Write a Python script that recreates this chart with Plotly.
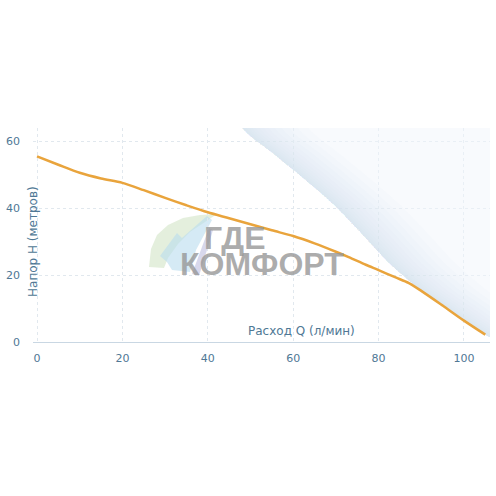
"""Pump performance curve: head vs flow."""

import plotly.graph_objects as go

# Pump curve (flow Q in l/min, head H in metres)
flow_q = [0, 5, 10, 15, 20, 25, 30, 35, 40, 45, 50, 55, 60, 65, 70, 73, 77, 80, 84, 87, 90, 95, 100, 105]
head_h = [55.5, 53.0, 50.6, 48.9, 47.6, 45.4, 43.1, 40.9, 38.8, 37.0, 35.2, 33.4, 31.7, 29.5, 27.0, 25.4, 23.1, 21.5, 19.3, 17.7, 15.3, 10.9, 6.4, 2.2]

# decorative swoosh edge in the upper right (joins the pump curve near Q=90)
swoosh_q = [47, 49.2, 55.3, 60, 65.6, 70.3, 74.9, 78.7, 82.7, 86.6, 90, 95, 100, 105, 106.1]
swoosh_h = [66, 62.4, 56.4, 51.5, 45.5, 40.1, 34.0, 28.7, 23.3, 18.9, 15.3, 10.9, 6.4, 2.2, 1.5]
swoosh_steps = [0.5, 1.0, 1.6, 2.3, 3.1, 4.0, 5.0, 6.2, 7.6, 9.2, 11, 13, 15.5]

x_ticks = [0, 20, 40, 60, 80, 100]
y_ticks = [0, 20, 40, 60]

TICK_COLOR = '#4f7895'
W, H = 496, 496
ML, MR, MT, MB = 33, 6, 128, 154
PW, PH = W - ML - MR, H - MT - MB

fig = go.Figure()

# swoosh: pale base + stacked thin bands so the edge is darkest
fig.add_trace(go.Scatter(
    x=swoosh_q + [120, 120],
    y=swoosh_h + [0, 66],
    mode='lines',
    fill='toself',
    fillcolor='rgba(241,246,251,0.5)',
    line=dict(width=0, color='rgba(0,0,0,0)', shape='spline', smoothing=0.8),
    hoverinfo='skip',
    showlegend=False,
))
for d in swoosh_steps:
    fig.add_trace(go.Scatter(
        x=swoosh_q + [q + d for q in swoosh_q[::-1]],
        y=swoosh_h + swoosh_h[::-1],
        mode='lines',
        fill='toself',
        fillcolor='rgba(200,222,242,0.06)',
        line=dict(width=0, color='rgba(0,0,0,0)', shape='spline', smoothing=0.8),
        hoverinfo='skip',
        showlegend=False,
    ))

fig.add_trace(go.Scatter(
    x=flow_q,
    y=head_h,
    mode='lines',
    line=dict(color='#e9a43c', width=2.5, shape='spline', smoothing=0.8),
    showlegend=False,
    hovertemplate='Q %{x}<br>H %{y}<extra></extra>'
))


def plot_paper(x, y):
    """pixel position -> paper coords of the plot area"""
    return (x - ML) / PW, 1 - (y - MT) / PH


def path(points):
    out = []
    for i, (x, y) in enumerate(points):
        xp, yp = plot_paper(x, y)
        out.append(('M' if i == 0 else 'L') + f'{xp:.4f},{yp:.4f}')
    return ' '.join(out) + ' Z'


# watermark logo (rough)
leaf = [(149, 267), (151, 249), (157, 235), (168, 225), (183, 218), (200, 215), (217, 214),
        (205, 222), (190, 232), (178, 244), (168, 258), (164, 268)]
house = [(160, 256), (177, 233), (182, 238), (207, 216), (212, 220), (196, 250), (190, 272), (172, 270), (167, 262)]
stripe = [(209, 228), (213, 230), (199, 276), (192, 274)]

shapes = []
for pts, col in [(leaf, 'rgba(210,228,198,0.6)'), (house, 'rgba(185,220,238,0.6)'), (stripe, 'rgba(190,190,224,0.6)')]:
    shapes.append(dict(
        type='path', xref='paper', yref='paper', layer='below',
        path=path(pts), fillcolor=col, line=dict(width=0),
    ))

WM_FONT = dict(family='Liberation Sans', size=32, color='rgba(150,150,150,0.78)', weight='bold')

fig.update_layout(
    width=W,
    height=H,
    template='plotly_white',
    plot_bgcolor='white',
    paper_bgcolor='white',
    margin=dict(l=ML, r=MR, t=MT, b=MB),
    font=dict(family='DejaVu Sans', size=11, color=TICK_COLOR),
    shapes=shapes,
    annotations=[
        dict(text='ГДЕ', xref='paper', yref='paper', x=plot_paper(202, 238)[0], y=plot_paper(202, 238)[1],
             xanchor='left', yanchor='middle', showarrow=False, font=WM_FONT),
        dict(text='КОМФОРТ', xref='paper', yref='paper', x=plot_paper(178, 264)[0], y=plot_paper(178, 264)[1],
             xanchor='left', yanchor='middle', showarrow=False, font=WM_FONT),
        dict(text='Расход Q (л/мин)', xref='x', yref='paper', x=62, y=0, yshift=2,
             xanchor='center', yanchor='bottom', showarrow=False,
             font=dict(family='DejaVu Sans', size=12, color=TICK_COLOR)),
        dict(text='Напор H (метров)', xref='paper', yref='paper', x=0, y=plot_paper(0, 242)[1],
             xanchor='center', yanchor='middle', textangle=-90, showarrow=False,
             font=dict(family='DejaVu Sans', size=12, color=TICK_COLOR)),
    ],
)

fig.update_xaxes(
    range=[-0.94, 106.1],
    tickvals=x_ticks,
    showgrid=True, gridcolor='#e1e8ee', griddash='dot', gridwidth=1,
    zeroline=False,
    showline=True, linecolor='#c9d7e3', linewidth=1,
    ticks='', ticklabelstandoff=6, automargin=False,
    tickfont=dict(color=TICK_COLOR, size=11),
)
fig.update_yaxes(
    range=[0, 64],
    tickvals=y_ticks,
    showgrid=True, gridcolor='#e1e8ee', griddash='dot', gridwidth=1,
    zeroline=False,
    showline=False,
    ticks='', ticklabelstandoff=12, automargin=False,
    tickfont=dict(color=TICK_COLOR, size=11),
)

fig.write_html("out.html", config={'displayModeBar': False},
               post_script="document.body.style.margin='0';")
